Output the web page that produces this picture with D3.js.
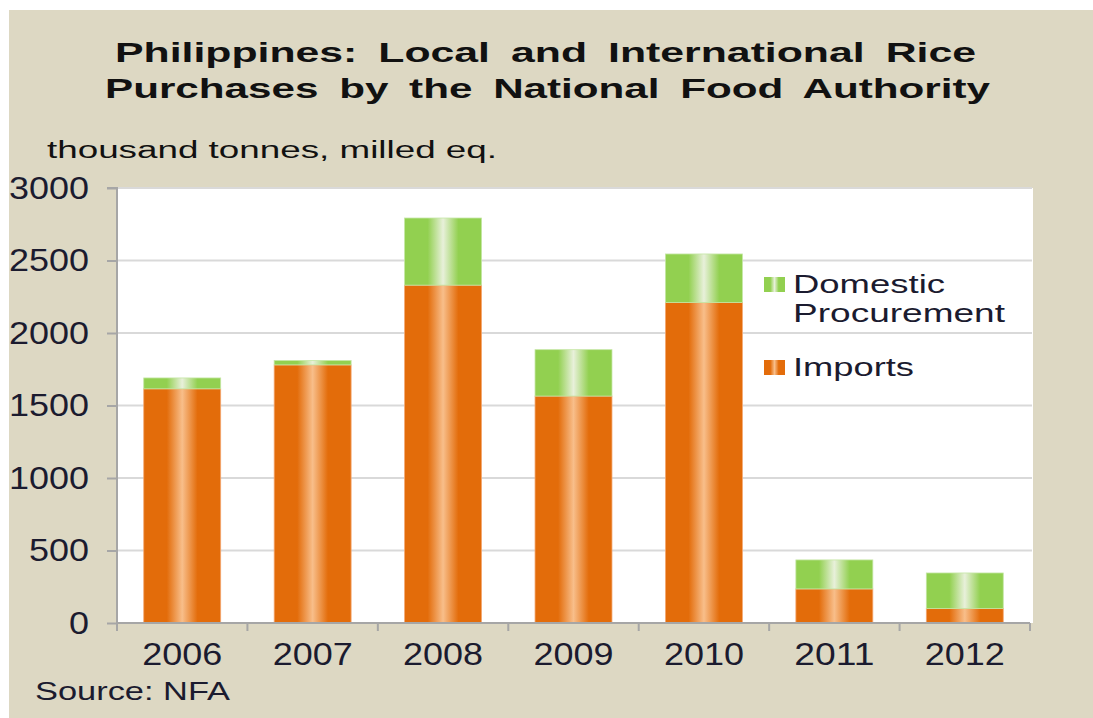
<!DOCTYPE html>
<html>
<head>
<meta charset="utf-8">
<script src="https://cdn.jsdelivr.net/npm/d3@7"></script>
<style>
  body { margin: 0; background: #fff; }
  svg { display: block; font-family: "Liberation Sans", Arial, sans-serif; }
</style>
</head>
<body>
<svg id="chart" width="1093" height="718"></svg>
<script>
let years = ["2006", "2007", "2008", "2009", "2010", "2011", "2012"];
let imports = [1615, 1780, 2330, 1565, 2210, 235, 100];
let domestic = [75, 30, 463, 320, 335, 200, 245];
let yTicks = [0, 500, 1000, 1500, 2000, 2500, 3000];
let seriesNames = ["Domestic Procurement", "Imports"];

let svg = d3.select("#chart");
let margin = {top: 188, right: 63, bottom: 95, left: 117};
let plotRight = 1030, plotBottom = 623;

// beige panel
svg.append("rect")
  .attr("x", 9).attr("y", 10)
  .attr("width", 1084).attr("height", 708)
  .attr("fill", "#ddd8c3");

// white plot area
svg.append("rect")
  .attr("x", margin.left).attr("y", margin.top)
  .attr("width", 1033 - margin.left).attr("height", plotBottom - margin.top)
  .attr("fill", "#fff");

// gradients for cylinder look
let defs = svg.append("defs");
function makeGrad(id, base, light) {
  let g = defs.append("linearGradient").attr("id", id)
    .attr("x1", "0%").attr("x2", "100%").attr("y1", "0%").attr("y2", "0%");
  [[0, base], [0.3, base], [0.5, light], [0.7, base], [1, base]].forEach(s =>
    g.append("stop").attr("offset", s[0]).attr("stop-color", s[1]));
}
makeGrad("gOrange", "#e36c0a", "#f8be8a");
makeGrad("gGreen", "#92d050", "#e8f0da");

let x = d3.scaleBand().domain(years).range([margin.left, plotRight]).paddingInner(0.41).paddingOuter(0.205);
let y = d3.scaleLinear().domain([0, 3000]).range([plotBottom, margin.top]);

// gridlines
svg.append("g").selectAll("line")
  .data(yTicks.filter(d => d > 0))
  .join("line")
  .attr("x1", margin.left).attr("x2", 1032)
  .attr("y1", d => y(d)).attr("y2", d => y(d))
  .attr("stroke", "#d9d9d9").attr("stroke-width", 2);

// bars
let rows = years.map((yr, i) => ({year: yr, imports: imports[i], domestic: domestic[i]}));
let stack = d3.stack().keys(["imports", "domestic"])(rows);
let fills = {imports: "url(#gOrange)", domestic: "url(#gGreen)"};
let edges = {imports: "#f4a872", domestic: "#c4e6a4"};

svg.append("g").selectAll("g")
  .data(stack)
  .join("g")
  .attr("fill", d => fills[d.key])
  .attr("stroke", d => edges[d.key])
  .attr("stroke-width", 0.8)
  .selectAll("rect")
  .data(d => d)
  .join("rect")
  .attr("x", d => x(d.data.year))
  .attr("width", x.bandwidth())
  .attr("y", d => y(d[1]))
  .attr("height", d => y(d[0]) - y(d[1]));

// y axis
let yAxis = svg.append("g")
  .attr("transform", `translate(${margin.left},0)`)
  .call(d3.axisLeft(y).tickValues(yTicks).tickFormat(d3.format("d")).tickSize(10).tickPadding(18));
yAxis.select(".domain").attr("stroke", "#a6a6a6").attr("stroke-width", 2).attr("d", `M-10,${margin.top}H0V${plotBottom}`);
yAxis.selectAll(".tick line").attr("stroke", "#a6a6a6").attr("stroke-width", 2);
yAxis.selectAll(".tick text")
  .attr("font-size", 32).attr("fill", "#1b1b2f")
  .attr("font-family", "'Liberation Sans', Arial, sans-serif")
  .attr("textLength", d => String(d).length * 20)
  .attr("lengthAdjust", "spacingAndGlyphs");

// x axis
let xAxis = svg.append("g")
  .attr("transform", `translate(0,${plotBottom})`)
  .call(d3.axisBottom(x).tickSize(0).tickPadding(42));
xAxis.select(".domain").remove();
xAxis.selectAll(".tick text")
  .attr("font-size", 31).attr("fill", "#1b1b2f")
  .attr("font-family", "'Liberation Sans', Arial, sans-serif")
  .attr("dy", 0)
  .attr("textLength", 80)
  .attr("lengthAdjust", "spacingAndGlyphs");
let step = x.step();
svg.append("line")
  .attr("x1", margin.left).attr("x2", plotRight)
  .attr("y1", plotBottom).attr("y2", plotBottom)
  .attr("stroke", "#a6a6a6").attr("stroke-width", 2);
svg.append("g").selectAll("line")
  .data(d3.range(years.length + 1))
  .join("line")
  .attr("x1", i => margin.left + i * step).attr("x2", i => margin.left + i * step)
  .attr("y1", plotBottom).attr("y2", plotBottom + 8)
  .attr("stroke", "#a6a6a6").attr("stroke-width", 2);

// titles
let titleLines = ["Philippines: Local and International Rice", "Purchases by the National Food Authority"];
let titleSpans = [[115, 976], [105, 990]];
svg.append("g").selectAll("text")
  .data(titleLines)
  .join("text")
  .attr("x", (d, i) => titleSpans[i][0])
  .attr("y", (d, i) => 62 + i * 36)
  .attr("textLength", (d, i) => titleSpans[i][1] - titleSpans[i][0])
  .attr("lengthAdjust", "spacingAndGlyphs")
  .attr("font-size", 28).attr("font-weight", "bold").attr("fill", "#111")
  .attr("word-spacing", 6)
  .text(d => d);

svg.append("text")
  .attr("x", 47).attr("y", 158)
  .attr("textLength", 450).attr("lengthAdjust", "spacingAndGlyphs")
  .attr("font-size", 23).attr("fill", "#111")
  .text("thousand tonnes, milled eq.");

svg.append("text")
  .attr("x", 35).attr("y", 700)
  .attr("textLength", 195).attr("lengthAdjust", "spacingAndGlyphs")
  .attr("font-size", 25).attr("fill", "#1b1b2f")
  .text("Source: NFA");

// legend
let legend = svg.append("g");
let legendItems = [
  {lines: ["Domestic", "Procurement"], grad: "url(#gGreen)", y: 277},
  {lines: ["Imports"], grad: "url(#gOrange)", y: 360}
];
legendItems.forEach(item => {
  legend.append("rect")
    .attr("x", 764).attr("y", item.y)
    .attr("width", 21).attr("height", 15)
    .attr("fill", item.grad);
  item.lines.forEach((ln, j) => {
    legend.append("text")
      .attr("x", 793).attr("y", item.y + 16 + j * 29)
      .attr("font-size", 26).attr("fill", "#1b1b2f")
      .attr("textLength", ln === "Domestic" ? 152 : ln === "Procurement" ? 212 : 121)
      .attr("lengthAdjust", "spacingAndGlyphs")
      .text(ln);
  });
});
</script>
</body>
</html>
